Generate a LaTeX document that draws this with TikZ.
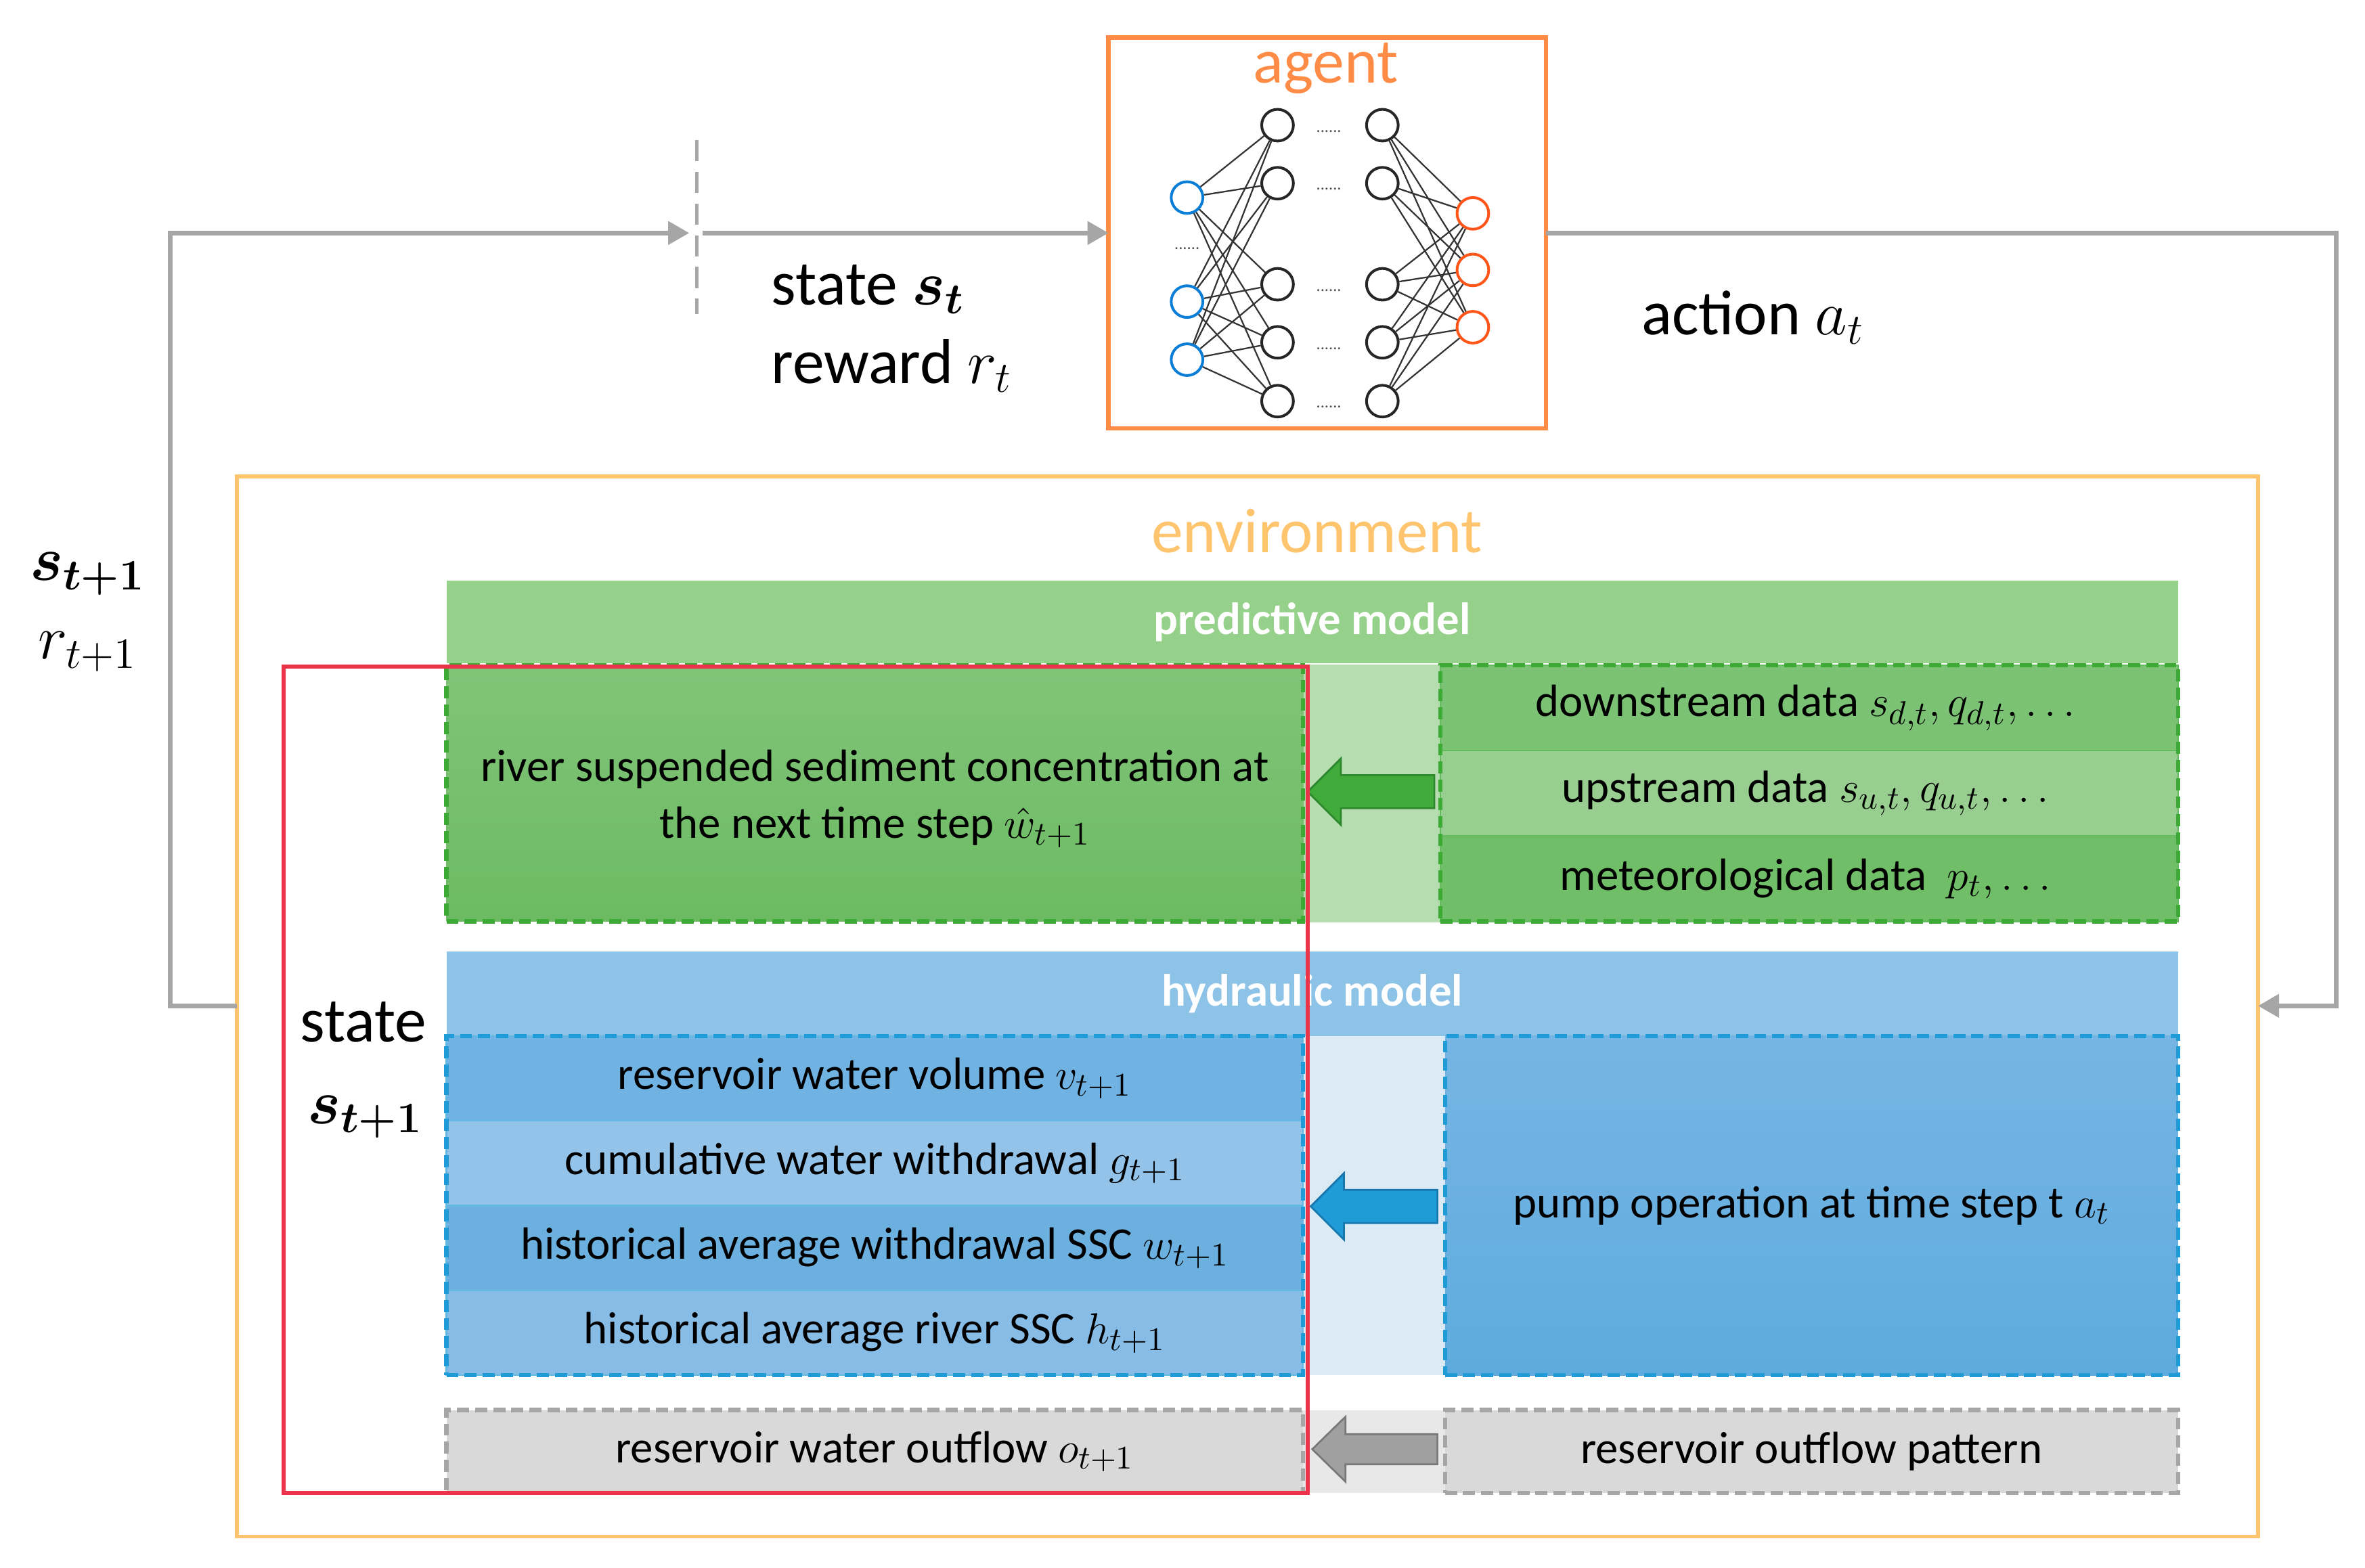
\documentclass[tikz,border=0pt]{standalone}
\usepackage{fontspec}
\setmainfont{Carlito}
\usepackage{amsmath,bm}
\usetikzlibrary{arrows.meta,fit,calc}
\definecolor{flowgray}{RGB}{166,166,166}
\definecolor{agentor}{RGB}{255,140,70}
\definecolor{envor}{RGB}{255,196,110}
\definecolor{redbox}{RGB}{235,52,74}
\definecolor{inblue}{RGB}{10,125,215}
\definecolor{outred}{RGB}{255,85,25}
\definecolor{ghead}{RGB}{149,209,138}
\definecolor{ggap}{RGB}{181,221,176}
\definecolor{gtop}{RGB}{129,196,121}
\definecolor{gbot}{RGB}{108,187,98}
\definecolor{grow1}{RGB}{124,194,116}
\definecolor{grow2}{RGB}{152,207,144}
\definecolor{grow3}{RGB}{112,190,103}
\definecolor{gborder}{RGB}{61,170,53}
\definecolor{garrow}{RGB}{64,170,58}
\definecolor{garrowd}{RGB}{45,135,45}
\definecolor{bhead}{RGB}{142,195,232}
\definecolor{bgap}{RGB}{220,234,246}
\definecolor{brow1}{RGB}{112,178,225}
\definecolor{brow2}{RGB}{147,195,233}
\definecolor{brow3}{RGB}{108,176,223}
\definecolor{brow4}{RGB}{134,188,230}
\definecolor{btop}{RGB}{118,181,227}
\definecolor{bbot}{RGB}{94,171,222}
\definecolor{bborder}{RGB}{31,155,215}
\definecolor{barrowd}{RGB}{22,120,175}
\definecolor{graybox}{RGB}{217,217,217}
\definecolor{graygap}{RGB}{232,232,232}
\definecolor{grayborder}{RGB}{166,166,166}
\definecolor{grayarrow}{RGB}{160,160,160}
\definecolor{grayarrowd}{RGB}{120,120,120}
\newcommand\bigfont{\fontsize{21}{25}\selectfont}
\newcommand\boxfont{\fontsize{15}{18.5}\selectfont}
\newcommand\dotsfont{\fontsize{5.5}{6}\selectfont}
\begin{document}
\begin{tikzpicture}[x=0.5pt,y=-0.5pt,
  flow/.style={draw=flowgray, line width=1.6pt, -{Triangle[length=7pt,width=7.5pt]}},
  nn/.style={circle, draw=black!85, line width=0.9pt, minimum size=10.5pt, inner sep=0},
  nnin/.style={nn, draw=inblue},
  nnout/.style={nn, draw=outred},
  syn/.style={draw=black!80, line width=0.5pt},
  blk/.style={anchor=north west, inner sep=0, outer sep=0, rectangle},
  gdash/.style={draw=gborder, line width=1.4pt, dash pattern=on 4pt off 2pt},
  bdash/.style={draw=bborder, line width=1.4pt, dash pattern=on 4pt off 2pt},
  kdash/.style={draw=grayborder, line width=1.4pt, dash pattern=on 4pt off 2pt},
  lbl/.style={font=\boxfont, align=center, inner sep=0},
  head/.style={font=\boxfont\bfseries, text=white},
  ndots/.style={font=\dotsfont, text=black!70, inner sep=0}
]
\useasboundingbox (0,0) rectangle (1568,1039.4);

% ---------- agent ----------
\node[blk, draw=agentor, line width=1.5pt, minimum width=145pt, minimum height=129.5pt] (agent) at (735,25) {};
\node[anchor=base, font=\bigfont, text=agentor] (agentlbl) at (879,55) {agent};

% neural network
\node[nnin] (i1) at (787,131) {};
\node[nnin] (i2) at (787,200) {};
\node[nnin] (i3) at (787,238.5) {};
\node[ndots] (idots) at (787,165) {......};
\foreach \k/\y in {1/83,2/121.5,3/188.5,4/227,5/266}{
  \node[nn] (a\k) at (847,\y) {};
  \node[nn] (b\k) at (916.5,\y) {};
  \node[ndots] (d\k) at (881,\y+4) {......};
}
\node[nnout] (o1) at (976.5,141.5) {};
\node[nnout] (o2) at (976.5,179) {};
\node[nnout] (o3) at (976.5,217) {};
\foreach \i in {1,2,3}{\foreach \k in {1,...,5}{\draw[syn] (i\i) -- (a\k);}}
\foreach \k in {1,...,5}{\foreach \o in {1,2,3}{\draw[syn] (b\k) -- (o\o);}}

% ---------- labels at top ----------
\node[anchor=base west, font=\bigfont, inner sep=0] (stlbl) at (511,202) {state $\boldsymbol{s}_{\boldsymbol{t}}$};
\node[anchor=base west, font=\bigfont, inner sep=0] (rtlbl) at (511,254) {reward $r_t$};
\node[anchor=base west, font=\bigfont, inner sep=0] (atlbl) at (1088,222) {action $a_t$};
\node[anchor=base, font=\bigfont, inner sep=0] (s1lbl) at (58,385) {$\boldsymbol{s}_{\boldsymbol{t+1}}$};
\node[anchor=base, font=\bigfont, inner sep=0] (r1lbl) at (58,437) {$r_{t+1}$};

% ---------- environment ----------
\node[blk, draw=envor, line width=1.2pt, minimum width=670pt, minimum height=351.5pt] (env) at (157,316) {};
\node[font=\bigfont, text=envor] (envlbl) at (873,352) {environment};

% predictive model
\node[blk, fill=ghead, minimum width=574pt, minimum height=27.5pt] (predhead) at (296,385) {};
\node[head] (predtxt) at (predhead.center) {predictive model};
\node[blk, fill=ggap, minimum width=45.5pt, minimum height=85.5pt] (predgap) at (864,440.5) {};
\node[blk, top color=gtop, bottom color=gbot, gdash, minimum width=284pt, minimum height=85pt] (predleft) at (296,441) {};
\node[lbl, anchor=base] (predtxta) at (580,518) {river suspended sediment concentration at};
\node[lbl, anchor=base] (predtxtb) at (580,556) {the next time step $\hat{w}_{t+1}$};
\node[blk, fill=grow1, draw=gborder!80, line width=0.5pt, minimum width=244.5pt, minimum height=28.33pt] (g1) at (955,441) {};
\node[blk, fill=grow2, draw=gborder!80, line width=0.5pt, minimum width=244.5pt, minimum height=28.33pt] (g2) at (955,497.67) {};
\node[blk, fill=grow3, draw=gborder!80, line width=0.5pt, minimum width=244.5pt, minimum height=28.33pt] (g3) at (955,554.33) {};
\node[fit=(g1)(g3), inner sep=0, gdash] (gright) {};
\node[lbl] (g1txt) at (g1.center) {downstream data $s_{d,t}, q_{d,t}, \dots$};
\node[lbl] (g2txt) at (g2.center) {upstream data $s_{u,t}, q_{u,t}, \dots$};
\node[lbl] (g3txt) at (g3.center) {meteorological data~ $p_t, \dots$};
\draw[fill=garrow, draw=garrowd, line width=0.6pt]
  (867,525) -- (889,503) -- (889,514) -- (951,514) -- (951,536) -- (889,536) -- (889,547) -- cycle;

% hydraulic model
\node[blk, fill=bhead, minimum width=574pt, minimum height=28pt] (hydhead) at (296,631) {};
\node[head] (hydtxt) at (hydhead.center) {hydraulic model};
\node[blk, fill=bgap, minimum width=47pt, minimum height=112.5pt] (hydgap) at (864,687) {};
\node[blk, fill=brow1, draw=bborder!70, line width=0.5pt, minimum width=284pt, minimum height=28.125pt] (h1) at (296,687) {};
\node[blk, fill=brow2, draw=bborder!70, line width=0.5pt, minimum width=284pt, minimum height=28.125pt] (h2) at (296,743.25) {};
\node[blk, fill=brow3, draw=bborder!70, line width=0.5pt, minimum width=284pt, minimum height=28.125pt] (h3) at (296,799.5) {};
\node[blk, fill=brow4, draw=bborder!70, line width=0.5pt, minimum width=284pt, minimum height=28.125pt] (h4) at (296,855.75) {};
\node[fit=(h1)(h4), inner sep=0, bdash] (hleft) {};
\node[lbl] (h1txt) at (h1.center) {reservoir water volume $v_{t+1}$};
\node[lbl] (h2txt) at (h2.center) {cumulative water withdrawal $g_{t+1}$};
\node[lbl] (h3txt) at (h3.center) {historical average withdrawal SSC $w_{t+1}$};
\node[lbl] (h4txt) at (h4.center) {historical average river SSC $h_{t+1}$};
\node[blk, top color=btop, bottom color=bbot, bdash, minimum width=243pt, minimum height=112.5pt] (pump) at (958,687) {};
\node[lbl] (pumptxt) at (pump.center) {pump operation at time step t $a_t$};
\draw[fill=bborder, draw=barrowd, line width=0.6pt]
  (869,800) -- (891,778) -- (891,789) -- (953,789) -- (953,811) -- (891,811) -- (891,822) -- cycle;

% outflow
\node[blk, fill=graygap, minimum width=47pt, minimum height=27.5pt] (kgap) at (864,935) {};
\node[blk, fill=graybox, kdash, minimum width=284pt, minimum height=27.5pt] (kleft) at (296,935) {};
\node[lbl] (klefttxt) at (kleft.center) {reservoir water outflow $o_{t+1}$};
\node[blk, fill=graybox, kdash, minimum width=243pt, minimum height=27.5pt] (kright) at (958,935) {};
\node[lbl] (krighttxt) at (kright.center) {reservoir outflow pattern};
\draw[fill=grayarrow, draw=grayarrowd, line width=0.6pt]
  (870,961) -- (892,939.5) -- (892,951) -- (953,951) -- (953,971) -- (892,971) -- (892,982.5) -- cycle;

% state box
\node[blk, draw=redbox, line width=1.3pt, minimum width=339.5pt, minimum height=274pt] (stbox) at (188,442) {};
\node[anchor=base, font=\bigfont, inner sep=0] (stbl1) at (241,691) {state};
\node[anchor=base, font=\bigfont, inner sep=0] (stbl2) at (242,745) {$\boldsymbol{s}_{\boldsymbol{t+1}}$};

% ---------- loop connectors ----------
\coordinate (bl) at (113,667);
\coordinate (tl) at (113,154.5);
\coordinate (dashc) at (462,154.5);
\coordinate (dasht) at (462,93);
\coordinate (dashb) at (462,208);
\coordinate (tr) at (1549,154.5);
\coordinate (br) at (1549,667);
\draw[draw=flowgray, line width=1.2pt, dash pattern=on 7pt off 3.5pt] (dasht) -- (dashb);
\draw[flow] (env.west |- bl) -- (bl) -- (tl) -- ([xshift=-2.5pt]dashc);
\draw[flow] ([xshift=2pt]dashc) -- (agent.west);
\draw[flow] (agent.east) -- (tr) -- (br) -- (env.east |- br);
\end{tikzpicture}
\end{document}
